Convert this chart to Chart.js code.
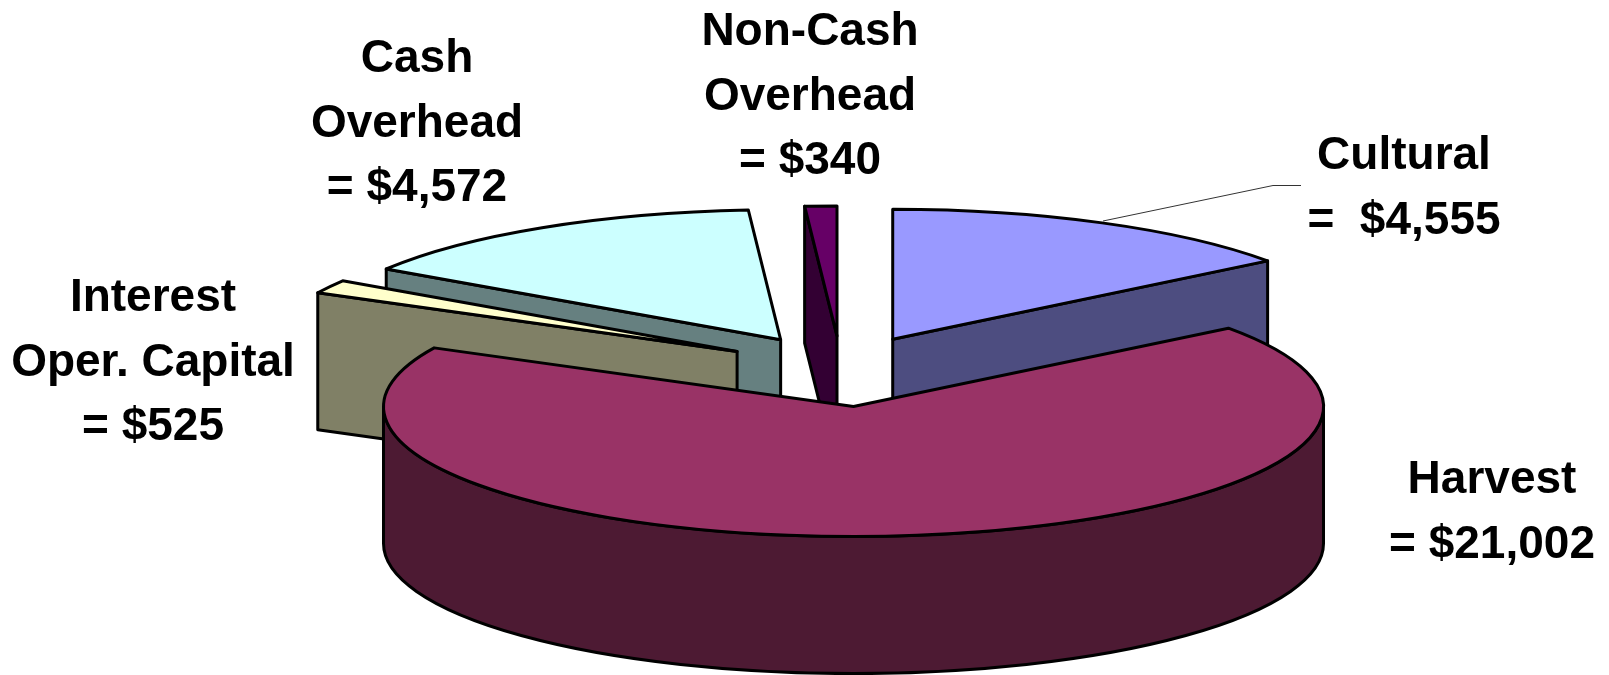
<!DOCTYPE html>
<html>
<head>
<meta charset="utf-8">
<title>Cost breakdown</title>
<script src="https://cdn.jsdelivr.net/npm/chart.js@4"></script>
<style>
  html, body { margin: 0; padding: 0; background: #fff; }
  canvas { display: block; }
</style>
</head>
<body>
<canvas id="costPie" width="1609" height="675"></canvas>
<script>
// data, in pie order (clockwise from 12 o'clock)
const categories = ["Cultural", "Harvest", "Interest Oper. Capital", "Cash Overhead", "Non-Cash Overhead"];
const costs = [4555, 21002, 525, 4572, 340];
const labelLines = [
  ["Cultural", "=  $4,555"],
  ["Harvest", "= $21,002"],
  ["Interest", "Oper. Capital", "= $525"],
  ["Cash", "Overhead", "= $4,572"],
  ["Non-Cash", "Overhead", "= $340"]
];

// look of the slices
const topColors = ["#9999FF", "#993366", "#FFFFCC", "#CCFFFF", "#660066"];
const sideColors = ["#4D4D80", "#4D1A33", "#808066", "#668080", "#330033"];
const explode = [0.247, 0.298, 0.255, 0.253, 0.247]; // share of the radius
const drawOrder = [4, 3, 2, 0, 1]; // back to front

// tilted pie geometry
const pie = { x: 841, y: 368, rx: 470, ry: 130, depth: 137 };
const labelX = [1404, 1492, 153, 417, 810];
const labelY = [169, 493, 311, 72, 45];
const lineGap = 64.7;

function sliceGeometry(arc, i) {
  const mid = (arc.startAngle + arc.endAngle) / 2;
  return {
    ax: pie.x + explode[i] * pie.rx * Math.cos(mid),
    ay: pie.y + explode[i] * pie.ry * Math.sin(mid),
    start: arc.startAngle,
    end: arc.endAngle,
    mid: mid
  };
}

function radialFace(ctx, g, angle, color) {
  const ex = g.ax + pie.rx * Math.cos(angle);
  const ey = g.ay + pie.ry * Math.sin(angle);
  ctx.beginPath();
  ctx.moveTo(g.ax, g.ay);
  ctx.lineTo(ex, ey);
  ctx.lineTo(ex, ey + pie.depth);
  ctx.lineTo(g.ax, g.ay + pie.depth);
  ctx.closePath();
  ctx.fillStyle = color;
  ctx.fill();
  ctx.stroke();
}

function drawWalls(ctx, g, color) {
  // only faces turned towards the viewer
  if (Math.sin(g.start - Math.PI / 2) > 0.001) radialFace(ctx, g, g.start, color);
  if (Math.sin(g.end + Math.PI / 2) > 0.001) radialFace(ctx, g, g.end, color);
  // rim, the part of it that lies in front
  const from = Math.max(g.start, 0);
  const to = Math.min(g.end, Math.PI);
  if (to > from) {
    ctx.beginPath();
    ctx.ellipse(g.ax, g.ay, pie.rx, pie.ry, 0, from, to);
    ctx.ellipse(g.ax, g.ay + pie.depth, pie.rx, pie.ry, 0, to, from, true);
    ctx.closePath();
    ctx.fillStyle = color;
    ctx.fill();
    ctx.stroke();
  }
}

const tiltedPie = {
  id: "tiltedPie",
  beforeDatasetsDraw(chart) {
    const ctx = chart.ctx;
    const arcs = chart.getDatasetMeta(0).data;
    ctx.save();
    ctx.lineWidth = 3;
    ctx.lineJoin = "round";
    ctx.strokeStyle = "#000";
    drawOrder.forEach(i => {
      const arc = arcs[i];
      const g = sliceGeometry(arc, i);
      drawWalls(ctx, g, sideColors[i]);
      // the library draws the face, squashed and moved out
      ctx.save();
      ctx.translate(g.ax, g.ay);
      ctx.scale(pie.rx / arc.outerRadius, pie.ry / arc.outerRadius);
      ctx.translate(-arc.x, -arc.y);
      arc.draw(ctx);
      ctx.restore();
      ctx.beginPath();
      ctx.moveTo(g.ax, g.ay);
      ctx.ellipse(g.ax, g.ay, pie.rx, pie.ry, 0, g.start, g.end);
      ctx.closePath();
      ctx.stroke();
    });
    ctx.restore();
    return false;
  },
  afterDraw(chart) {
    const ctx = chart.ctx;
    ctx.save();
    // leader of the Cultural label
    ctx.strokeStyle = "#333";
    ctx.lineWidth = 1;
    ctx.beginPath();
    ctx.moveTo(1103, 221);
    ctx.lineTo(1273, 185.5);
    ctx.lineTo(1301, 185.5);
    ctx.stroke();
    ctx.fillStyle = "#000";
    ctx.font = "bold 46px 'Liberation Sans', Arial, sans-serif";
    ctx.textAlign = "center";
    ctx.textBaseline = "alphabetic";
    labelLines.forEach((lines, i) => {
      lines.forEach((line, n) => ctx.fillText(line, labelX[i], labelY[i] + n * lineGap));
    });
    ctx.restore();
  }
};

new Chart(document.getElementById("costPie"), {
  type: "pie",
  data: {
    labels: categories,
    datasets: [{ data: costs, backgroundColor: topColors, borderWidth: 0 }]
  },
  options: {
    responsive: false,
    animation: false,
    plugins: { legend: { display: false }, tooltip: { enabled: false } }
  },
  plugins: [tiltedPie]
});
</script>
</body>
</html>
